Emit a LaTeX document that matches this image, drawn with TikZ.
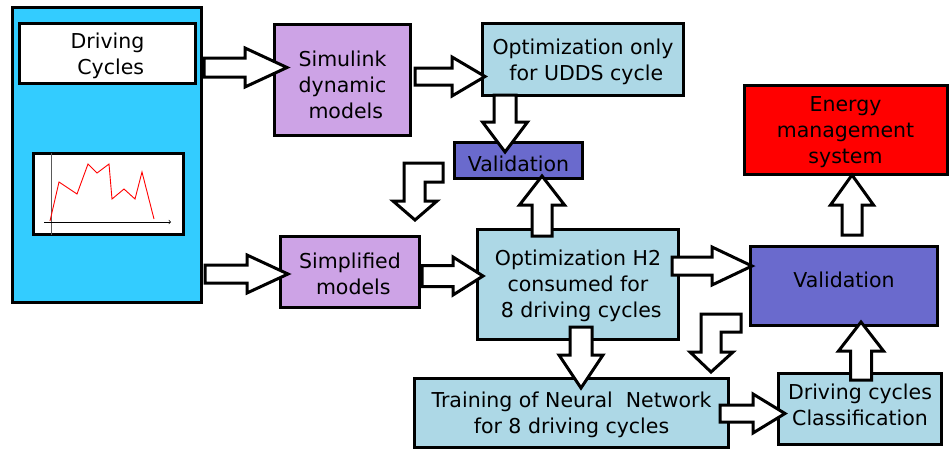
\documentclass[tikz,border=0pt]{standalone}
\usepackage{fontspec}
\setmainfont{DejaVu Sans}
\usetikzlibrary{calc}

\definecolor{cyclecyan}{RGB}{51,204,255}
\definecolor{modelviolet}{RGB}{205,163,230}
\definecolor{stagecyan}{RGB}{173,216,230}
\definecolor{checkblue}{RGB}{106,106,205}

\tikzset{
  box/.style={draw=black, line width=3pt, rectangle, inner sep=0pt},
  boxtext/.style={inner sep=0pt, align=center, font=\fontsize{20.5}{26}\selectfont},
  blockarrow/.style={draw=black, fill=white, line width=3pt, line join=miter},
}

% horizontal block arrow: start, tip, shaft half width, head half width, head length
\newcommand\hblock[5]{%
  \draw[blockarrow] ($(#1)+(0,-#3)$) -- ($(#2)+(-#5,-#3)$) -- ($(#2)+(-#5,-#4)$) -- (#2)
    -- ($(#2)+(-#5,#4)$) -- ($(#2)+(-#5,#3)$) -- ($(#1)+(0,#3)$) -- cycle;}
% vertical block arrow: start, tip, shaft half width, head half width, signed head length
\newcommand\vblock[5]{%
  \draw[blockarrow] ($(#1)+(-#3,0)$) -- ($(#2)+(-#3,#5)$) -- ($(#2)+(-#4,#5)$) -- (#2)
    -- ($(#2)+(#4,#5)$) -- ($(#2)+(#3,#5)$) -- ($(#1)+(#3,0)$) -- cycle;}

\begin{document}
\begin{tikzpicture}[x=1pt,y=-1pt]
\useasboundingbox (0,0) rectangle (949,451);

% driving cycle source panel
\node[box, fill=cyclecyan, minimum width=189pt, minimum height=295pt] (src) at (107,155) {};
\node[box, fill=white, minimum width=176pt, minimum height=60pt,
  label={[boxtext, yshift=-2.5pt]center:{Driving\\~Cycles}}] (dctitle) at (107.5,53.5) {};
\node[box, fill=white, line width=2.5pt, minimum width=150pt, minimum height=81pt] (chart) at (108.5,194) {};
\draw[gray!70!black, line width=0.8pt] (51,153) -- (51,235);
\draw[black, line width=0.7pt, ->] (44,222) -- (171,222);
\draw[red, line width=0.9pt, line join=miter]
  (50,221) -- (59,182) -- (77,194) -- (88,164) -- (97,173) -- (109,164) -- (112,199)
  -- (124,189) -- (135,199) -- (142,172) -- (154,219);

% processing stages
\node[box, fill=modelviolet, minimum width=136pt, minimum height=111pt,
  label={[boxtext, yshift=-5pt]center:{Simulink\\dynamic\\~models}}] (sim) at (342.5,80) {};
\node[box, fill=stagecyan, minimum width=201pt, minimum height=72pt,
  label={[boxtext, yshift=-2.5pt]center:{Optimization only\\~for UDDS cycle}}] (optu) at (583,59.5) {};
\node[box, fill=checkblue, minimum width=128pt, minimum height=36pt,
  label={[boxtext, yshift=-3pt]center:{Validation}}] (valA) at (518.5,160.5) {};
\node[box, fill=red, minimum width=203pt, minimum height=89pt,
  label={[boxtext, yshift=-2pt]center:{Energy\\management\\system}}] (ems) at (845.5,130) {};
\node[box, fill=modelviolet, minimum width=139pt, minimum height=71pt,
  label={[boxtext, yshift=-2pt]center:{Simplified\\~models}}] (simp) at (350,272) {};
\node[box, fill=stagecyan, minimum width=201pt, minimum height=110pt,
  label={[boxtext, yshift=-1.5pt]center:{Optimization H2\\consumed for\\~8 driving cycles}}] (opth) at (578,284.5) {};
\node[box, fill=checkblue, minimum width=187pt, minimum height=79pt,
  label={[boxtext, yshift=6pt]center:{Validation}}] (valB) at (844,286) {};
\node[box, fill=stagecyan, minimum width=314pt, minimum height=69pt,
  label={[boxtext, yshift=-1.5pt]center:{Training of Neural~ Network\\for 8 driving cycles}}] (train) at (571.5,413) {};
\node[box, fill=stagecyan, minimum width=163pt, minimum height=71pt,
  label={[boxtext, yshift=4pt]center:{Driving cycles\\Classification}}] (cls) at (860,409) {};

% arrow end points
\coordinate (a1s) at (204,67.5);   \coordinate (a1t) at (287,67.5);
\coordinate (a2s) at (415,76.5);   \coordinate (a2t) at (485,76.5);
\coordinate (a3s) at (505,95);     \coordinate (a3t) at (505,152);
\coordinate (a4s) at (542,236);    \coordinate (a4t) at (542,176);
\coordinate (a5s) at (205,274);    \coordinate (a5t) at (288,274);
\coordinate (a6s) at (422,276);    \coordinate (a6t) at (483,276);
\coordinate (a7s) at (672,266);    \coordinate (a7t) at (752,266);
\coordinate (a8s) at (581,327);    \coordinate (a8t) at (581,388);
\coordinate (a9s) at (720,413.5);  \coordinate (a9t) at (785,413.5);
\coordinate (a10s) at (861,380);   \coordinate (a10t) at (861,322);
\coordinate (a11s) at (852,235);   \coordinate (a11t) at (852,175);
\coordinate (bendA) at (404,163);
\coordinate (bendB) at (701,314);

% block arrows
\hblock{a1s}{a1t}{9.5}{19.5}{42}
\hblock{a2s}{a2t}{8.5}{19.5}{33}
\vblock{a3s}{a3t}{11}{22.5}{-30}
\vblock{a4s}{a4t}{10}{22.5}{29}
\hblock{a5s}{a5t}{9}{19}{41}
\hblock{a6s}{a6t}{10.5}{19}{30}
\hblock{a7s}{a7t}{9}{19}{40}
\vblock{a8s}{a8t}{11}{22}{-33}
\hblock{a9s}{a9t}{8.5}{19.5}{32}
\vblock{a10s}{a10t}{10.5}{22.5}{29}
\vblock{a11s}{a11t}{10}{21.5}{30}

% bent arrows
\draw[blockarrow] (bendA) -- ++(39,0) -- ++(0,19) -- ++(-18,0) -- ++(0,19) -- ++(12,0)
  -- ++(-22,19) -- ++(-22,-19) -- ++(11,0) -- cycle;
\draw[blockarrow] (bendB) -- ++(40,0) -- ++(0,18) -- ++(-20,0) -- ++(0,20) -- ++(12,0)
  -- ++(-22,20) -- ++(-21,-20) -- ++(11,0) -- cycle;
\end{tikzpicture}
\end{document}
